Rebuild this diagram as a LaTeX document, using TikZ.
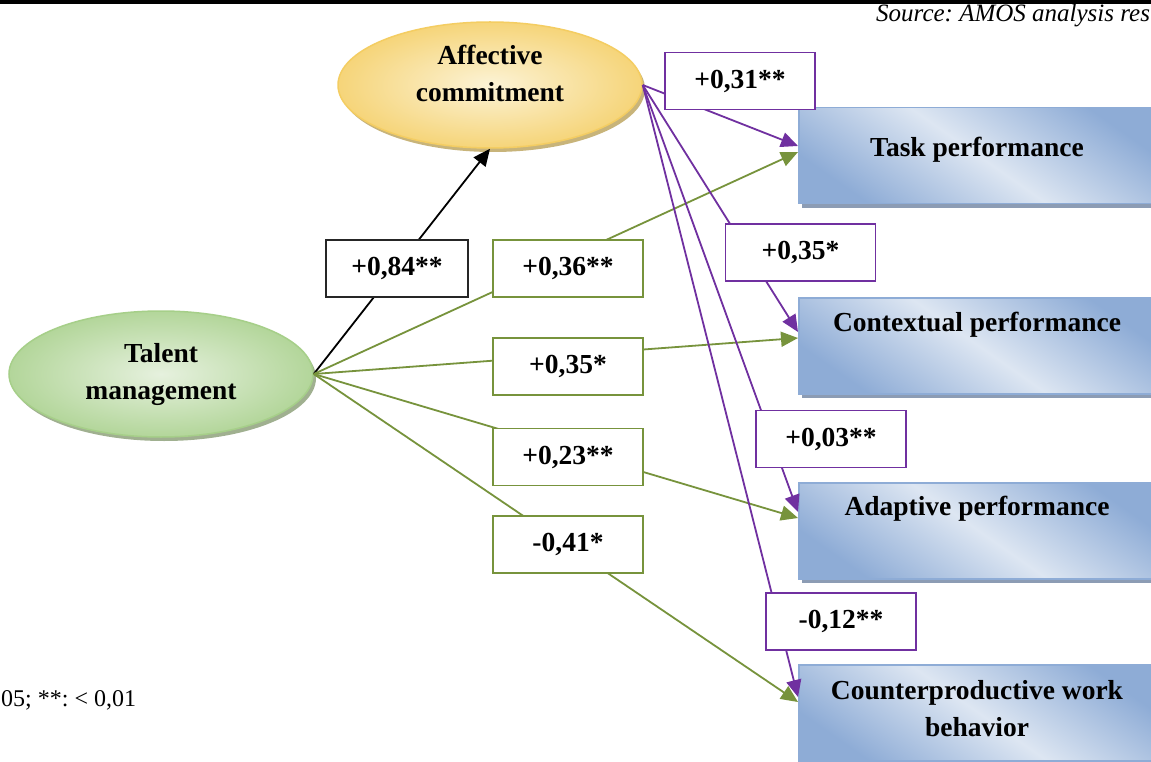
\documentclass[tikz,border=0pt]{standalone}
\usepackage{fontspec}
\setmainfont{Liberation Serif}
\usetikzlibrary{arrows.meta,shapes.geometric,shadows}
\definecolor{purp}{HTML}{7030A0}
\definecolor{olive}{HTML}{77933C}
\definecolor{blueD}{HTML}{8EACD6}
\definecolor{blueL}{HTML}{DDE6F2}
\definecolor{blueS}{HTML}{8C9CB4}
\definecolor{goldD}{HTML}{F4CD62}
\definecolor{goldL}{HTML}{FCF3D6}
\definecolor{goldS}{HTML}{C8B47A}
\definecolor{greenD}{HTML}{A6CF89}
\definecolor{greenL}{HTML}{E6F1DE}
\definecolor{greenS}{HTML}{A0B090}
\frenchspacing
\begin{document}
\begin{tikzpicture}[x=1pt,y=-1pt,
  bigfont/.style={font=\fontsize{27.5}{37}\selectfont\bfseries},
  oval/.style={ellipse,minimum width=304pt,minimum height=126pt,inner sep=0pt,line width=1.5pt},
  acstyle/.style={oval,draw=goldD,inner color=goldL,outer color=goldD!80!goldL,
     drop shadow={shadow xshift=3pt,shadow yshift=-4pt,fill=goldS,opacity=1}},
  tmstyle/.style={oval,draw=greenD,inner color=greenL,outer color=greenD!80!greenL,
     drop shadow={shadow xshift=3pt,shadow yshift=-4pt,fill=greenS,opacity=1}},
  outbox/.style={rectangle,anchor=north west,minimum width=360pt,minimum height=96pt,
     inner sep=0pt,draw=blueD,line width=1.5pt,
     top color=blueD,bottom color=blueD,middle color=blueL,shading angle=-35,
     drop shadow={shadow xshift=3pt,shadow yshift=-4pt,fill=blueS,opacity=1}},
  lab/.style={rectangle,fill=white,line width=1.8pt,minimum width=150pt,minimum height=57pt,
     inner sep=0pt,bigfont},
  plab/.style={lab,draw=purp},
  glab/.style={lab,draw=olive},
  klab/.style={lab,draw=black!85,minimum width=142pt},
  tip/.style={-{Triangle[length=17pt,width=15pt]}},
  parr/.style={tip,draw=purp,line width=1.8pt},
  garr/.style={tip,draw=olive,line width=1.8pt},
  karr/.style={tip,draw=black,line width=1.8pt}
]
\useasboundingbox (0,0) rectangle (1151,762);
\clip (0,0) rectangle (1151,762);
\fill[white] (0,0) rectangle (1151,762);
\draw[line width=4pt] (0,2) -- (1151,2);
\node[anchor=base west,inner sep=0pt,font=\fontsize{25}{30}\selectfont\itshape] (src) at (876,22) {Source: AMOS analysis res};
\node[anchor=west,inner sep=0pt,font=\fontsize{24}{30}\selectfont] (note) at (1,700) {05; **: < 0,01};

% ovals
\node[acstyle] (ac) at (490,85) {};
\node[bigfont,align=center] (acT) at (490,73) {Affective\\commitment};
\node[tmstyle] (tm) at (161,374) {};
\node[bigfont,align=center] (tmT) at (161,374) {Talent\\management};

% outcome boxes
\node[outbox] (task) at (798,107) {};
\node[outbox] (ctx) at (798,297) {};
\node[outbox] (ada) at (798,482) {};
\node[outbox] (cwb) at (798,664) {};
\node[bigfont] (taskT) at (977,150) {Task performance};
\node[bigfont] (ctxT) at (977,325) {Contextual performance};
\node[bigfont] (adaT) at (977,509) {Adaptive performance};
\node[bigfont,align=center] (cwbT) at (977,709) {Counterproductive work\\behavior};

% arrow end points
\coordinate (taskP) at ([yshift=-39pt]task.north west);
\coordinate (taskG) at ([yshift=-45pt]task.north west);
\coordinate (ctxP) at ([yshift=-35pt]ctx.north west);
\coordinate (ctxG) at ([yshift=-41pt]ctx.north west);
\coordinate (adaP) at ([yshift=-30pt]ada.north west);
\coordinate (adaG) at ([yshift=-36pt]ada.north west);
\coordinate (cwbP) at ([yshift=-33pt]cwb.north west);
\coordinate (cwbG) at ([yshift=-38pt]cwb.north west);

% connectors
\draw[karr] (tm.east) -- (ac.south);
\draw[garr] (tm.east) -- (taskG);
\draw[garr] (tm.east) -- (ctxG);
\draw[garr] (tm.east) -- (adaG);
\draw[garr] (tm.east) -- (cwbG);
\draw[parr] (ac.east) -- (taskP);
\draw[parr] (ac.east) -- (ctxP);
\draw[parr] (ac.east) -- (adaP);
\draw[parr] (ac.east) -- (cwbP);

% labels
\node[klab] (l84) at (397,268.5) {+0,84**};
\node[glab] (l36) at (568,268.5) {+0,36**};
\node[glab] (l35g) at (568,366.5) {+0,35*};
\node[glab] (l23) at (568,457) {+0,23**};
\node[glab] (l41) at (568,544.5) {-0,41*};
\node[plab] (l31) at (740,81) {+0,31**};
\node[plab] (l35p) at (800.5,252.5) {+0,35*};
\node[plab] (l03) at (831,439) {+0,03**};
\node[plab] (l12) at (841,621.5) {-0,12**};
\end{tikzpicture}
\end{document}
